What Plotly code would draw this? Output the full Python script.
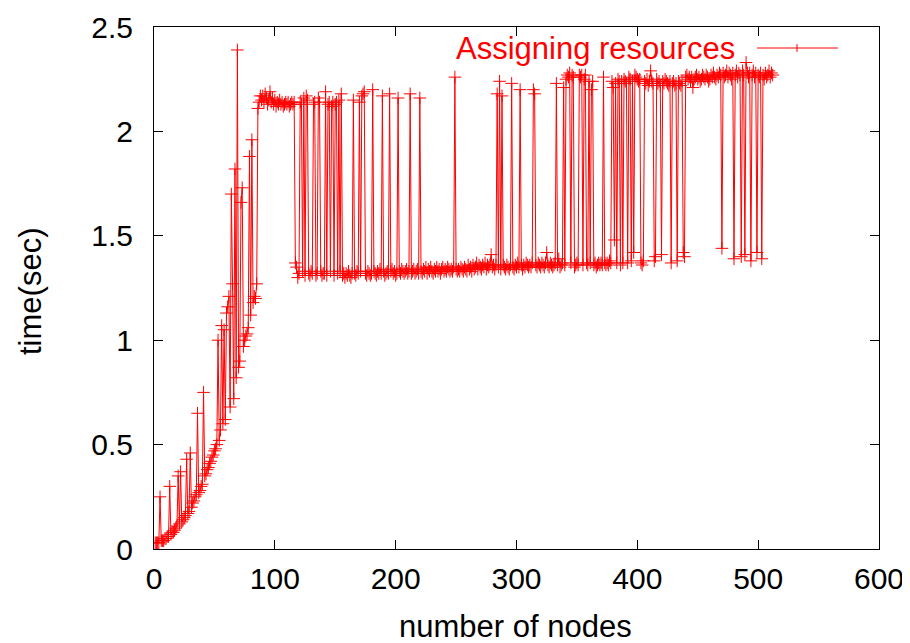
import plotly.graph_objects as go

# number of nodes (x) : 1 .. 512
nodes = list(range(1, 513))

# time(sec) for nodes 1..88 (rising part with spikes)
ramp_times = [
    0.03, 0.03, 0.03, 0.03, 0.25, 0.04, 0.04, 0.04, 0.05, 0.05,
    0.06, 0.06, 0.30, 0.07, 0.08, 0.08, 0.09, 0.10, 0.11, 0.35,
    0.12, 0.37, 0.13, 0.14, 0.15, 0.16, 0.43, 0.17, 0.18, 0.46,
    0.20, 0.22, 0.23, 0.25, 0.26, 0.65, 0.27, 0.28, 0.30, 0.31,
    0.75, 0.35, 0.36, 0.38, 0.39, 0.41, 0.42, 0.44, 0.45, 0.47,
    0.48, 0.50, 1.00, 0.52, 0.57, 1.07, 0.60, 1.05, 0.62, 1.13,
    1.16, 1.21, 0.68, 1.70, 1.27, 0.72, 1.82, 0.82, 2.39, 0.87,
    0.90, 1.66, 1.73, 0.97, 1.00, 1.02, 1.03, 1.06, 1.88, 1.12,
    1.96, 1.18, 1.21, 1.20, 1.27, 2.11, 2.14, 2.17,
]

# time(sec) for nodes 89..117 (high plateau)
plateau_times = [
    2.15, 2.17, 2.14, 2.18, 2.16, 2.13, 2.15, 2.19, 2.14, 2.16,
    2.13, 2.15, 2.12, 2.14, 2.13, 2.15, 2.13, 2.14, 2.12, 2.13,
    2.14, 2.13, 2.14, 2.12, 2.13, 2.14, 2.13, 2.14, 1.37,
]

# time(sec) for nodes 118..512 (switching between two levels)
mixed_times = [
    1.35, 1.30, 1.32, 2.14, 2.13, 1.33, 2.16, 1.31, 2.17, 2.15,
    1.32, 1.31, 1.33, 1.32, 2.13, 2.14, 1.31, 1.32, 2.16, 2.14,
    1.33, 1.31, 1.32, 1.32, 2.19, 1.31, 2.13, 2.14, 1.33, 2.12,
    2.14, 1.31, 2.13, 2.14, 1.32, 2.15, 1.33, 2.18, 1.31, 1.32,
    1.30, 1.32, 1.31, 1.33, 1.31, 1.30, 1.32, 2.15, 1.32, 1.31,
    1.33, 1.32, 2.14, 1.33, 2.17, 2.18, 2.19, 1.32, 1.31, 1.33,
    1.32, 1.31, 1.32, 2.20, 1.33, 1.32, 1.31, 1.33, 1.32, 1.34,
    1.32, 2.17, 1.33, 1.31, 1.32, 1.33, 1.32, 2.18, 1.33, 1.34,
    1.32, 1.33, 1.31, 1.32, 2.16, 1.33, 1.32, 1.34, 1.33, 1.32,
    1.33, 1.34, 1.32, 1.33, 2.18, 1.32, 1.33, 1.34, 1.32, 1.33,
    1.34, 1.32, 2.16, 1.33, 1.32, 1.34, 1.33, 1.35, 1.32, 1.34,
    1.33, 1.35, 1.33, 1.32, 1.34, 1.33, 1.35, 1.33, 1.34, 1.32,
    1.34, 1.35, 1.33, 1.34, 1.33, 1.35, 1.34, 1.33, 1.34, 1.33,
    1.35, 2.26, 1.34, 1.33, 1.34, 1.33, 1.35, 1.34, 1.33, 1.35,
    1.34, 1.33, 1.36, 1.34, 1.35, 1.33, 1.36, 1.34, 1.35, 1.37,
    1.34, 1.36, 1.35, 1.34, 1.36, 1.35, 1.37, 1.34, 1.36, 1.35,
    1.36, 1.41, 1.35, 1.36, 1.34, 1.36, 2.18, 1.35, 2.24, 1.34,
    2.17, 1.36, 1.35, 1.34, 1.36, 1.35, 1.34, 1.36, 2.23, 1.35,
    1.34, 1.36, 1.35, 1.37, 1.35, 2.20, 1.36, 1.34, 1.36, 1.35,
    1.37, 1.36, 1.35, 1.36, 1.35, 1.37, 2.20, 2.18, 1.36, 1.35,
    1.37, 1.36, 1.35, 1.37, 1.36, 1.35, 1.37, 1.42, 1.36, 1.35,
    1.37, 1.36, 1.35, 1.36, 1.37, 2.23, 1.36, 1.39, 1.35, 1.36,
    1.37, 2.21, 1.36, 2.25, 2.27, 2.26, 2.28, 1.37, 2.27, 2.26,
    1.35, 1.36, 1.37, 1.36, 2.27, 2.26, 2.27, 1.36, 2.25, 2.27,
    1.37, 1.36, 2.24, 1.37, 2.20, 2.24, 1.36, 1.37, 1.35, 1.36,
    1.37, 1.36, 1.37, 1.36, 2.26, 1.37, 1.36, 1.37, 1.36, 1.38,
    1.37, 2.24, 2.21, 1.48, 2.23, 1.37, 2.25, 2.24, 1.36, 2.24,
    1.37, 2.25, 2.24, 2.23, 1.37, 2.26, 2.25, 1.38, 2.24, 1.42,
    2.27, 2.26, 2.25, 2.24, 2.25, 1.37, 1.36, 1.38, 2.24, 2.23,
    2.25, 2.22, 2.24, 2.29, 2.24, 2.23, 1.38, 1.40, 2.25, 2.23,
    2.24, 2.22, 1.41, 2.24, 2.23, 2.25, 2.24, 2.23, 2.22, 2.24,
    1.37, 2.23, 2.24, 2.22, 2.23, 1.38, 2.24, 2.23, 2.22, 2.24,
    1.42, 1.40, 2.26, 2.27, 2.25, 2.26, 2.24, 2.26, 2.21, 2.25,
    2.26, 2.27, 2.25, 2.26, 2.24, 2.25, 2.27, 2.26, 2.25, 2.27,
    2.26, 2.24, 2.25, 2.27, 2.26, 2.28, 2.26, 2.25, 2.27, 2.26,
    2.28, 2.27, 1.44, 2.28, 2.26, 2.27, 2.29, 2.26, 2.28, 2.27,
    2.25, 2.28, 1.39, 2.27, 2.29, 2.26, 2.28, 2.27, 1.40, 2.29,
    2.27, 1.41, 2.33, 2.28, 2.26, 2.28, 1.38, 2.27, 2.29, 2.26,
    2.28, 1.42, 2.27, 2.26, 2.28, 1.39, 2.27, 2.25, 2.28, 2.26,
    2.27, 2.29, 2.26, 2.28, 2.27,
]

times = ramp_times + plateau_times + mixed_times

series_name = "Assigning resources"
x_ticks = [0, 100, 200, 300, 400, 500, 600]
y_ticks = [0, 0.5, 1, 1.5, 2, 2.5]

RED = "#ff0000"
FONT = "Liberation Sans, Arial, Helvetica, sans-serif"
FS_TICK = 30
FS_TEXT = 31

# page body has an 8px margin: figure drawn at (8,8)
OFF = 8
FIG_W, FIG_H = 910 - OFF, 643 - OFF
# plot area in page pixels
L, R, T, B = 154, 879, 27, 549
W, H = R - L, B - T
def px(x): return (x - L) / W
def py(y): return (B - y) / H

fig = go.Figure()
fig.add_trace(go.Scatter(
    x=nodes, y=times, mode="lines+markers", name=series_name,
    line=dict(color=RED, width=1),
    marker=dict(symbol="cross-thin", size=9, line=dict(color=RED, width=1), color=RED),
    showlegend=False,
))

# gnuplot-style key: text, then line sample with a '+'
fig.add_annotation(x=px(737), y=py(48), xref="paper", yref="paper",
                   text=series_name, showarrow=False, xanchor="right", yanchor="middle",
                   font=dict(family=FONT, size=FS_TEXT, color=RED))
fig.add_shape(type="line", xref="paper", yref="paper",
              x0=px(757), x1=px(838), y0=py(48), y1=py(48), line=dict(color=RED, width=1))
fig.add_shape(type="line", xref="paper", yref="paper",
              x0=px(797), x1=px(797), y0=py(44), y1=py(52), line=dict(color=RED, width=1))

# axis titles
fig.add_annotation(x=px(515), y=py(626), xref="paper", yref="paper", text="number of nodes",
                   showarrow=False, xanchor="center", yanchor="middle",
                   font=dict(family=FONT, size=FS_TEXT, color="black"))
fig.add_annotation(x=px(30), y=py(292), xref="paper", yref="paper", text="time(sec)",
                   showarrow=False, xanchor="center", yanchor="middle", textangle=-90,
                   font=dict(family=FONT, size=FS_TEXT, color="black"))

axis_common = dict(showgrid=False, zeroline=False, showline=True, linecolor="black",
                   linewidth=1, mirror="ticks", ticks="inside", ticklen=9,
                   tickcolor="black", tickwidth=1,
                   tickfont=dict(family=FONT, size=FS_TICK, color="black"))

fig.update_layout(
    width=FIG_W, height=FIG_H,
    margin=dict(l=L - OFF, r=FIG_W - (R - OFF), t=T - OFF, b=FIG_H - (B - OFF),
                autoexpand=False),
    paper_bgcolor="white", plot_bgcolor="white",
    xaxis=dict(range=[0, 600], tickvals=x_ticks, ticklabelstandoff=3, **axis_common),
    yaxis=dict(range=[0, 2.5], tickvals=y_ticks, ticklabelstandoff=14, **axis_common),
)

fig.write_html("out.html")
